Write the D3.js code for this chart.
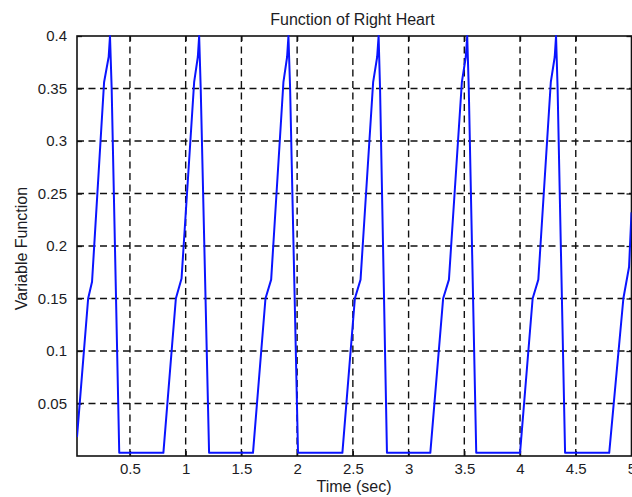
<!DOCTYPE html>
<html>
<head>
<meta charset="utf-8">
<script src="https://cdn.jsdelivr.net/npm/d3@7/dist/d3.min.js"></script>
<style>
  html, body { margin: 0; padding: 0; background: #fff; }
  svg { display: block; }
  text { font-family: "Liberation Sans", Arial, Helvetica, sans-serif; fill: #1c1c24; }
</style>
</head>
<body>
<svg id="chart" width="632" height="497"></svg>
<script>
// Right-heart activation function, sampled over ~6 cardiac cycles (period ~0.8 s)
const time = [
  0.025, 0.125, 0.160, 0.268, 0.309, 0.321, 0.336, 0.404,
  0.800, 0.912, 0.963, 1.076, 1.109, 1.121, 1.135, 1.210,
  1.604, 1.716, 1.767, 1.877, 1.910, 1.922, 1.937, 2.008,
  2.406, 2.518, 2.569, 2.682, 2.718, 2.731, 2.744, 2.806,
  3.195, 3.310, 3.362, 3.478, 3.513, 3.526, 3.540, 3.607,
  4.000, 4.113, 4.164, 4.276, 4.311, 4.323, 4.337, 4.404,
  4.800, 4.927, 4.978, 5.000
];
const value = [
  0.018, 0.150, 0.166, 0.356, 0.380, 0.400, 0.350, 0.003,
  0.003, 0.150, 0.169, 0.356, 0.380, 0.400, 0.350, 0.003,
  0.003, 0.150, 0.168, 0.356, 0.380, 0.400, 0.350, 0.003,
  0.003, 0.150, 0.168, 0.356, 0.380, 0.400, 0.350, 0.003,
  0.003, 0.150, 0.168, 0.356, 0.380, 0.400, 0.350, 0.003,
  0.003, 0.150, 0.168, 0.356, 0.380, 0.400, 0.350, 0.003,
  0.003, 0.150, 0.180, 0.232
];
const xTicks = [0.5, 1, 1.5, 2, 2.5, 3, 3.5, 4, 4.5, 5];
const yTicks = [0.05, 0.1, 0.15, 0.2, 0.25, 0.3, 0.35, 0.4];
const xTickLabels = ["0.5", "1", "1.5", "2", "2.5", "3", "3.5", "4", "4.5", "5"];
const yTickLabels = ["0.05", "0.1", "0.15", "0.2", "0.25", "0.3", "0.35", "0.4"];
const titleText = "Function of Right Heart";
const xLabelText = "Time (sec)";
const yLabelText = "Variable Function";

const svg = d3.select("#chart");
const plotL = 77, plotR = 631.5, plotT = 36, plotB = 456;

const x = d3.scaleLinear().domain([0.025, 5]).range([plotL, plotR]);
const y = d3.scaleLinear().domain([0, 0.4]).range([plotB, plotT]);

svg.append("defs").append("clipPath").attr("id", "plotClip")
  .append("rect").attr("x", plotL).attr("y", plotT - 2)
  .attr("width", plotR - plotL).attr("height", plotB - plotT + 2);

// dashed grid
const grid = svg.append("g").attr("stroke", "#111").attr("stroke-width", 1.4)
  .attr("stroke-dasharray", "7,4.5").attr("fill", "none");
grid.selectAll(".gx").data(xTicks.filter(d => d < 5)).join("line")
  .attr("x1", d => x(d)).attr("x2", d => x(d))
  .attr("y1", plotB).attr("y2", plotT);
grid.selectAll(".gy").data(yTicks.filter(d => d < 0.4)).join("line")
  .attr("y1", d => y(d)).attr("y2", d => y(d))
  .attr("x1", plotL).attr("x2", plotR);

// axes with inward ticks
const fmtX = d => xTickLabels[xTicks.indexOf(d)];
const fmtY = d => yTickLabels[yTicks.indexOf(d)];

const xAxis = svg.append("g").attr("transform", `translate(0,${plotB})`)
  .call(d3.axisBottom(x).tickValues(xTicks).tickFormat(fmtX).tickSizeInner(-5).tickSizeOuter(0).tickPadding(15));
const xAxisTop = svg.append("g").attr("transform", `translate(0,${plotT})`)
  .call(d3.axisTop(x).tickValues(xTicks).tickFormat("").tickSizeInner(-5).tickSizeOuter(0));
const yAxis = svg.append("g").attr("transform", `translate(${plotL},0)`)
  .call(d3.axisLeft(y).tickValues(yTicks).tickFormat(fmtY).tickSizeInner(-5).tickSizeOuter(0).tickPadding(10));
const yAxisRight = svg.append("g").attr("transform", `translate(${plotR},0)`)
  .call(d3.axisRight(y).tickValues(yTicks).tickFormat("").tickSizeInner(-5).tickSizeOuter(0));

[xAxis, xAxisTop, yAxis, yAxisRight].forEach(g => {
  g.select(".domain").remove();
  g.selectAll(".tick line").attr("stroke", "#111").attr("stroke-width", 1.3);
  g.selectAll("text").style("font-size", "15px").attr("fill", "#1c1c24")
    .attr("font-family", "Liberation Sans, Arial, sans-serif");
});
xAxis.selectAll("text").attr("dy", "0.35em").attr("y", 12.5);

// frame
svg.append("rect").attr("x", plotL).attr("y", plotT)
  .attr("width", plotR - plotL).attr("height", plotB - plotT)
  .attr("fill", "none").attr("stroke", "#111").attr("stroke-width", 1.6);

// signal
const line = d3.line().x((d, i) => x(time[i])).y((d, i) => y(value[i]));
svg.append("path").datum(value)
  .attr("clip-path", "url(#plotClip)")
  .attr("d", line)
  .attr("fill", "none").attr("stroke", "#0a14ff").attr("stroke-width", 2)
  .attr("stroke-linejoin", "round");

// labels
svg.append("text").attr("x", 352.5).attr("y", 24.5).attr("text-anchor", "middle")
  .style("font-size", "16px").text(titleText);
svg.append("text").attr("x", 354).attr("y", 492).attr("text-anchor", "middle")
  .style("font-size", "16px").text(xLabelText);
svg.append("text").attr("transform", "translate(26.5,248.5) rotate(-90)")
  .attr("text-anchor", "middle").style("font-size", "16px").text(yLabelText);
</script>
</body>
</html>
